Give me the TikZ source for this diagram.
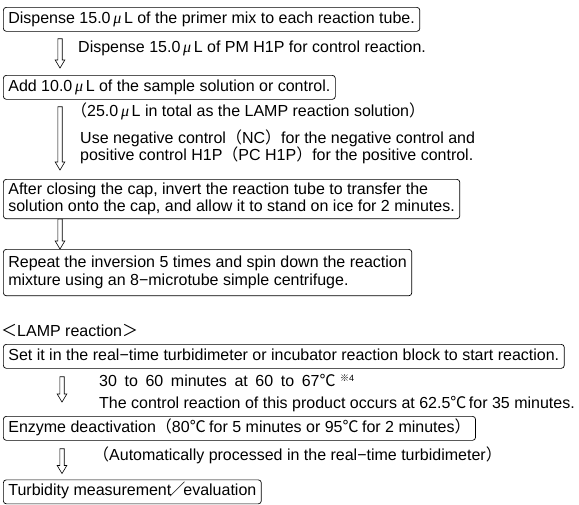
\documentclass[tikz,border=0pt]{standalone}
\usepackage{fontspec}
\setmainfont{Liberation Sans}
\newfontfamily\jpfont{Noto Sans CJK JP}
\newfontfamily\mufont{Liberation Serif}
\usepackage{tikz}
\usetikzlibrary{calc,positioning}

\newcommand\fw[1]{{\jpfont #1}}
\newcommand\uL{\,{\mufont\itshape μ}\,L}

\begin{document}
\begin{tikzpicture}[x=1pt,y=-1pt,
  every node/.style={font=\fontsize{16}{17.5}\selectfont,inner sep=0pt},
  stepbox/.style={draw,rounded corners=3pt,line width=0.7pt,anchor=north west,inner xsep=5pt,inner ysep=4pt,text height=12pt,text depth=4pt},
  twobox/.style={draw,rounded corners=3pt,line width=0.7pt,anchor=north west,inner xsep=5pt,align=left},
  note/.style={anchor=west,text height=12pt,text depth=4pt},
  hollow/.style={draw,fill=white,line width=0.6pt,to path={let \p1=(\tikztostart),\p2=(\tikztotarget) in
    (\x1-2.2pt,\y1) -- (\x1-2.2pt,\y2+8pt) -- (\x1-4.8pt,\y2+8pt) -- (\x1,\y2)
    -- (\x1+4.8pt,\y2+8pt) -- (\x1+2.2pt,\y2+8pt) -- (\x1+2.2pt,\y1) -- cycle}}]
\useasboundingbox (0,0) rectangle (579,504);

% preparation steps
\node[stepbox] (dispense) at (3,7) {Dispense 15.0\uL{} of the primer mix to each reaction tube.};
\node[note] (pmnote) at (78,48) {Dispense 15.0\uL{} of PM H1P for control reaction.};
\node[stepbox] (addsample) at (3,75) {Add 10.0\uL{} of the sample solution or control.};
\node[note] (totalnote) at (71,112) {\fw{（}25.0\uL{} in total as the LAMP reaction solution\fw{）}};
\node[note] (ncnote) at (80,139) {Use negative control\fw{（}NC\fw{）}for the negative control and};
\node[note] (pcnote) at (80,156) {positive control H1P\fw{（}PC H1P\fw{）}for the positive control.};
\node[twobox,inner ysep=3.5pt] (invert) at (3,179) {After closing the cap, invert the reaction tube to transfer the\\solution onto the cap, and allow it to stand on ice for 2 minutes.};
\node[twobox,inner ysep=7pt] (spin) at (3,249) {Repeat the inversion 5 times and spin down the reaction\\mixture using an 8−microtube simple centrifuge.};

% LAMP reaction
\node[note] (lamphead) at (1,332) {\fw{＜}LAMP reaction\fw{＞}};
\node[stepbox] (setblock) at (3,344) {Set it in the real−time turbidimeter or incubator reaction block to start reaction.};
\node[note] (timenote) at (99,382) {{\spaceskip=7.6pt 30 to 60 minutes at 60 to 67\fw{℃}} \raisebox{5pt}{\fontsize{9}{9}\selectfont\fw{※}4}};
\node[note] (tempnote) at (99,404) {The control reaction of this product occurs at 62.5\fw{℃}\kern-2pt{} for 35 minutes.};
\node[stepbox] (deact) at (3,416) {Enzyme deactivation\fw{（}80\fw{℃}\kern-1pt{} for 5 minutes or 95\fw{℃}\kern-1pt{} for 2 minutes\fw{）}};
\node[note] (autonote) at (93,456) {\fw{（}Automatically processed in the real−time turbidimeter\fw{）}};
\node[stepbox] (measure) at (3,479.5) {Turbidity measurement\kern-2pt\fw{／}\kern-2pt evaluation};

\draw[hollow] ([xshift=57pt,yshift=-7pt]dispense.south west) to ([xshift=57pt,yshift=7pt]addsample.north west);
\draw[hollow] ([xshift=57pt,yshift=-7pt]addsample.south west) to ([xshift=57pt,yshift=9pt]invert.north west);
\draw[hollow] ([xshift=57pt]invert.south west) to ([xshift=57pt]spin.north west);
\draw[hollow] ([xshift=59pt,yshift=-8pt]setblock.south west) to ([xshift=59pt,yshift=14pt]deact.north west);
\draw[hollow] ([xshift=59pt,yshift=-8pt]deact.south west) to ([xshift=59pt,yshift=6pt]measure.north west);
\end{tikzpicture}
\end{document}
